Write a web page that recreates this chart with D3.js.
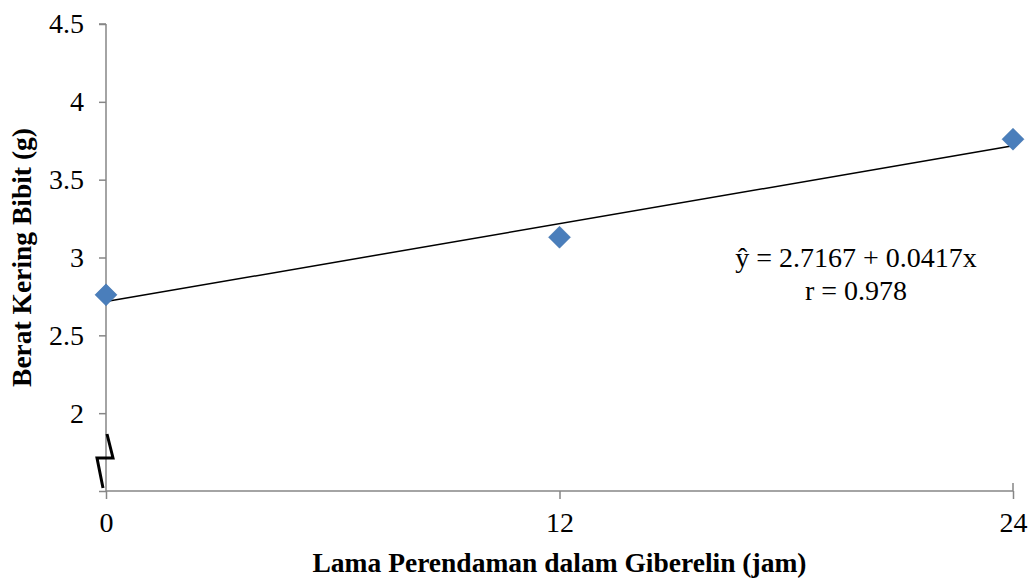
<!DOCTYPE html>
<html>
<head>
<meta charset="utf-8">
<script src="https://cdn.jsdelivr.net/npm/d3@7"></script>
<style>
body{margin:0;background:#fff;}
svg text{font-family:"Liberation Serif","Times New Roman",serif;}
</style>
</head>
<body>
<svg id="chart"></svg>
<script>
let hours = [0, 12, 24]
let weights = [2.76, 3.13, 3.76]
let yTicks = [1.5, 2, 2.5, 3, 3.5, 4, 4.5]
let xTicks = [0, 12, 24]
let intercept = 2.7167
let slope = 0.0417
let eqLines = ["ŷ = 2.7167 + 0.0417x", "r = 0.978"]

function getConfig(){
    let width = 1033
    let height = 578
    let margin = {top: 24, bottom: 87, left: 106, right: 20}
    let container = d3.select("#chart")
        .attr("width", width)
        .attr("height", height)
    return {width, height, margin, container}
}

function getScales(cfg){
    let {width, height, margin} = cfg
    let x = d3.scaleLinear().domain([0, 24]).range([margin.left, 1013])
    let y = d3.scaleLinear().domain([1.5, 4.5]).range([height - margin.bottom, margin.top])
    return {x, y}
}

function drawAxes(cfg, sc){
    let {container, height, margin} = cfg
    let {x, y} = sc
    let axisColor = "#868686"

    let yAxis = container.append("g")
        .attr("transform", "translate(" + margin.left + ",0)")
        .call(d3.axisLeft(y).tickValues(yTicks).tickSize(7).tickPadding(15)
            .tickFormat(d => d === 1.5 ? "" : d3.format("")(d)))
    let xAxis = container.append("g")
        .attr("transform", "translate(0," + (height - margin.bottom) + ")")
        .call(d3.axisBottom(x).tickValues(xTicks).tickSize(8).tickPadding(13))

    ;[xAxis, yAxis].forEach(a => {
        a.select(".domain").attr("stroke", axisColor).attr("stroke-width", 1.5)
        a.selectAll(".tick line").attr("stroke", axisColor).attr("stroke-width", 1.5)
        a.selectAll(".tick text")
            .style("font-family", "'Liberation Serif', serif")
            .style("font-size", "28px")
            .attr("fill", "#000")
    })
    yAxis.select(".domain").attr("d", "M0," + y(4.5) + "H-7M0," + y(4.5) + "V" + y(1.5))
    xAxis.select(".domain").attr("d", "M" + x(0) + ",0H" + x(24) + "V-8")

    // axis break symbol
    let bx = x(0), by = y(1.5)
    container.append("path")
        .attr("d", "M" + (bx + 1) + "," + (by - 57) +
                   "L" + (bx + 7) + "," + (by - 33) +
                   "L" + (bx - 9) + "," + (by - 33) +
                   "L" + (bx - 3) + "," + (by - 3))
        .attr("fill", "none")
        .attr("stroke", "#000")
        .attr("stroke-width", 3)

    container.append("text")
        .attr("x", (x(0) + x(24)) / 2)
        .attr("y", 572)
        .attr("text-anchor", "middle")
        .style("font-size", "27.5px")
        .style("font-weight", "bold")
        .text("Lama Perendaman dalam Giberelin (jam)")

    container.append("text")
        .attr("transform", "translate(31," + ((y(1.5) + y(4.5)) / 2) + ") rotate(-90)")
        .attr("text-anchor", "middle")
        .style("font-size", "27.5px")
        .style("font-weight", "bold")
        .text("Berat Kering Bibit (g)")
}

function drawData(cfg, sc){
    let {container} = cfg
    let {x, y} = sc

    container.append("line")
        .attr("x1", x(0)).attr("y1", y(intercept))
        .attr("x2", x(24)).attr("y2", y(intercept + slope * 24))
        .attr("stroke", "#000")
        .attr("stroke-width", 1.5)

    container.selectAll(".pt").data(hours)
        .enter().append("path")
        .attr("class", "pt")
        .attr("transform", (d, i) => "translate(" + x(d) + "," + y(weights[i]) + ")")
        .attr("d", "M0,-11L11,0L0,11L-11,0Z")
        .attr("fill", "#4a7ebb")
        .attr("stroke", "#3d6ea8")
        .attr("stroke-width", 0.5)

    container.selectAll(".eq").data(eqLines)
        .enter().append("text")
        .attr("class", "eq")
        .attr("x", 856)
        .attr("y", (d, i) => 267 + i * 33)
        .attr("text-anchor", "middle")
        .style("font-size", "28px")
        .text(d => d)
}

let cfg = getConfig()
let sc = getScales(cfg)
drawAxes(cfg, sc)
drawData(cfg, sc)
</script>
</body>
</html>
